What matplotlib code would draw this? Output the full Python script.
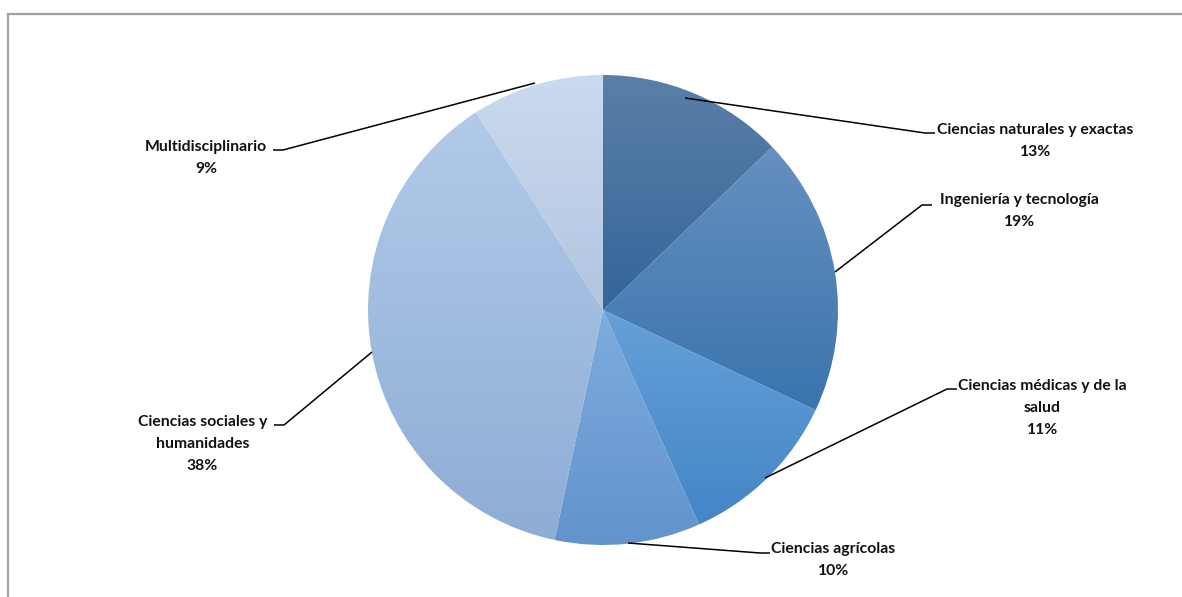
import matplotlib
matplotlib.use('Agg')
import matplotlib.pyplot as plt
import numpy as np
from matplotlib.colors import to_rgb
from matplotlib.patches import Rectangle

# Data
categories = ['Ciencias naturales y exactas', 'Ingeniería y tecnología',
              'Ciencias médicas y de la\nsalud', 'Ciencias agrícolas',
              'Ciencias sociales y\nhumanidades', 'Multidisciplinario']
shares = [12.8, 19.2, 11.3, 10.0, 37.6, 9.1]

# gradient colours per slice (top, bottom)
grad_colors = [('#5b7fa7', '#34659a'),
               ('#6690bf', '#3a74ae'),
               ('#66a0d8', '#4386c6'),
               ('#7eacdf', '#6293cc'),
               ('#b1cae9', '#8eadd4'),
               ('#cadaf0', '#b3c5df')]

W, H = 1182, 597
fig = plt.figure(figsize=(W / 100, H / 100), dpi=100)
ax = fig.add_axes([0, 0, 1, 1])
ax.set_xlim(0, W)
ax.set_ylim(0, H)
ax.axis('off')

cx, cy, r = 603, H - 310, 235
wedges, _ = ax.pie(shares, startangle=90, counterclock=False, radius=r,
                   center=(cx, cy), frame=True)

for w, (ctop, cbot) in zip(wedges, grad_colors):
    w.set_facecolor('none')
    w.set_edgecolor('none')
    bb = w.get_path().get_extents()
    t = np.linspace(0, 1, 256)[:, None]
    arr = (1 - t) * np.array(to_rgb(ctop)) + t * np.array(to_rgb(cbot))
    arr = arr.reshape(256, 1, 3)
    im = ax.imshow(arr, extent=(bb.x0, bb.x1, bb.y0, bb.y1), origin='upper',
                   aspect='auto', interpolation='bilinear', zorder=1)
    im.set_clip_path(w)

ax.set_xlim(0, W)
ax.set_ylim(0, H)
ax.set_aspect('auto')

# labels with leader lines (pixel layout, y from top)
layout = [
    # edge point, bend point, text anchor, ha
    ((685, 98), (925, 133), (937, 141), 'left'),
    ((835, 272), (922, 205), (940, 211), 'left'),
    ((765, 478), (947, 389), (958, 408), 'left'),
    ((628, 543), (760, 553), (771, 560), 'left'),
    ((372, 352), (284, 425), (267, 444), 'right'),
    ((535, 83), (283, 150), (267, 158), 'right'),
]

font = dict(family=['Lato', 'DejaVu Sans'], fontsize=11.3, fontweight='bold',
            color='#111111')

for cat, val, (p0, p1, tp, ha) in zip(categories, shares, layout):
    dx = 10 if ha == 'left' else -10
    xs = [p0[0], p1[0], p1[0] + dx]
    ys = [H - p0[1], H - p1[1], H - p1[1]]
    ax.plot(xs, ys, color='black', lw=1.1, zorder=3, solid_capstyle='butt')
    ax.text(tp[0], H - tp[1], f'{cat}\n{val:.0f}%', ha=ha, va='center',
            multialignment='center', linespacing=1.75, zorder=4, **font)

# chart frame (only top and left visible)
ax.add_patch(Rectangle((8, -20), W + 20, H - 14 + 20, facecolor='none',
                       edgecolor='#a0a0a0', lw=1.6, zorder=5, clip_on=False))

fig.savefig('out.png', dpi=100)
